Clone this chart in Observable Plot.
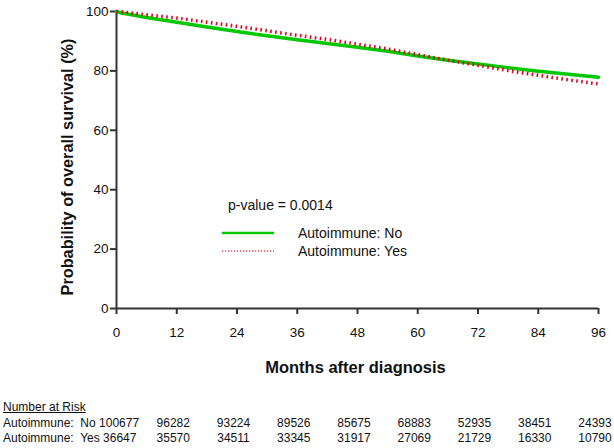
<!DOCTYPE html>
<html>
<head>
<meta charset="utf-8">
<script src="https://cdn.jsdelivr.net/npm/d3@7"></script>
<script src="https://cdn.jsdelivr.net/npm/@observablehq/plot@0.6"></script>
<style>
  html, body { margin: 0; padding: 0; background: #fff; }
  body { font-family: "Liberation Sans", Arial, Helvetica, sans-serif; color: #111; }
  #wrap { position: relative; width: 614px; height: 448px; overflow: hidden; }
  .ov { position: absolute; white-space: pre; line-height: 16px; height: 16px; }
  #table { position: absolute; left: 0; top: 390px; width: 614px; height: 58px; font-size: 12px; }
</style>
</head>
<body>
<div id="wrap"></div>
<script>
// ---- data ----
const months = [0, 1, 3, 6, 12, 18, 24, 30, 36, 42, 48, 54, 60, 66, 72, 78, 84, 90, 96];
const survivalNo  = [100, 99.5, 98.9, 98.0, 96.4, 94.8, 93.3, 91.8, 90.5, 89.2, 88.0, 86.6, 85.0, 83.6, 82.3, 81.1, 79.9, 78.9, 77.9];
const survivalYes = [100, 99.9, 99.5, 98.9, 97.8, 96.4, 95.0, 93.5, 92.0, 90.6, 89.0, 87.4, 85.5, 83.6, 81.9, 80.1, 78.5, 77.0, 75.6];
const groups = ["Autoimmune: No", "Autoimmune: Yes"];
const groupColors = ["#00c800", "#e3001b"];
const xTicks = [0, 12, 24, 36, 48, 60, 72, 84, 96];
const yTicks = [0, 20, 40, 60, 80, 100];
const xLabel = "Months after diagnosis";
const yLabel = "Probability of overall survival (%)";
const pValueText = "p-value = 0.0014";
const riskTitle = "Number at Risk";
const riskMonths = [0, 12, 24, 36, 48, 60, 72, 84, 96];
const riskRowLabels = ["Autoimmune:  No", "Autoimmune:  Yes"];
const riskNo  = [100677, 96282, 93224, 89526, 85675, 68883, 52935, 38451, 24393];
const riskYes = [36647, 35570, 34511, 33345, 31917, 27069, 21729, 16330, 10790];

// ---- build table for Plot ----
const rows = [];
months.forEach((m, i) => rows.push({month: m, surv: survivalNo[i], group: groups[0]}));
months.forEach((m, i) => rows.push({month: m, surv: survivalYes[i], group: groups[1]}));

const font = "Liberation Sans, Arial, Helvetica, sans-serif";
const axisColor = "#333";

const plot = Plot.plot({
  width: 614,
  height: 390,
  marginLeft: 116,
  marginRight: 16,
  marginTop: 11,
  marginBottom: 82,
  style: {fontFamily: font, fontSize: "13px", color: "#111", background: "#fff", overflow: "visible"},
  x: {domain: [0, 96], label: null},
  y: {domain: [0, 100], label: null},
  color: {domain: groups, range: groupColors},
  marks: [
    Plot.axisX({ticks: xTicks, tickSize: 6, tickPadding: 13, label: null, stroke: axisColor, strokeWidth: 2, fontSize: 13.5, tickFormat: d => String(d)}),
    Plot.axisY({ticks: yTicks, tickSize: 6, tickPadding: 2, label: null, stroke: axisColor, strokeWidth: 2, fontSize: 13.5, tickFormat: d => String(d)}),
    Plot.ruleX([0], {stroke: axisColor, strokeWidth: 2}),
    Plot.ruleY([0], {stroke: axisColor, strokeWidth: 2}),
    Plot.line(rows.filter(d => d.group === groups[0]), {x: "month", y: "surv", stroke: "group", strokeWidth: 3.5}),
    Plot.line(rows.filter(d => d.group === groups[1]), {x: "month", y: "surv", stroke: "group", strokeWidth: 3.5, strokeDasharray: "1.6,3.4", strokeLinecap: "butt"}),
    Plot.text([yLabel], {frameAnchor: "left", textAnchor: "middle", dx: -49, dy: 7, rotate: -90, fontWeight: "bold", fontSize: 16.3, fill: "#111"}),
    Plot.text([xLabel], {frameAnchor: "bottom", dx: -2, dy: 64, fontWeight: "bold", fontSize: 16.5, fill: "#111"})
  ]
});

const wrap = document.getElementById("wrap");
wrap.appendChild(plot);
const xs = plot.scale("x");

// ---- legend / p-value overlay ----
function addText(txt, left, centerY, size, extra) {
  const d = document.createElement("div");
  d.className = "ov";
  d.textContent = txt;
  d.style.left = left + "px";
  d.style.top = (centerY - 8) + "px";
  d.style.fontSize = size + "px";
  if (extra) Object.assign(d.style, extra);
  wrap.appendChild(d);
  return d;
}
addText(pValueText, 228, 205, 14);

const legendY = [233, 251];
groups.forEach((g, i) => {
  const svg = d3.create("svg").attr("width", 52).attr("height", 8)
    .style("position", "absolute").style("left", "222px").style("top", (legendY[i] - 4) + "px");
  svg.append("line").attr("x1", 0).attr("x2", 52).attr("y1", 4).attr("y2", 4)
    .attr("stroke", groupColors[i])
    .attr("stroke-width", i === 0 ? 2.5 : 1.6)
    .attr("stroke-dasharray", i === 0 ? null : "1.2,1.8")
    .attr("opacity", i === 0 ? 1 : 0.75);
  wrap.appendChild(svg.node());
  addText(g, 298, legendY[i], 14);
});

// ---- number at risk table ----
const table = document.createElement("div");
table.id = "table";
wrap.appendChild(table);
function tText(txt, left, centerY, anchorMiddle, extra) {
  const d = document.createElement("div");
  d.className = "ov";
  d.textContent = txt;
  d.style.top = (centerY - 390 - 8) + "px";
  d.style.left = left + "px";
  if (anchorMiddle) d.style.transform = "translateX(-50%)";
  if (extra) Object.assign(d.style, extra);
  table.appendChild(d);
}
tText(riskTitle, 3, 407, false, {textDecoration: "underline"});
const rowY = [423, 438];
[riskNo, riskYes].forEach((vals, r) => {
  tText(riskRowLabels[r] + " " + vals[0], 3, rowY[r], false);
  riskMonths.forEach((m, i) => {
    if (i === 0) return;
    tText(String(vals[i]), xs.apply(m) - 3, rowY[r], true);
  });
});
</script>
</body>
</html>
